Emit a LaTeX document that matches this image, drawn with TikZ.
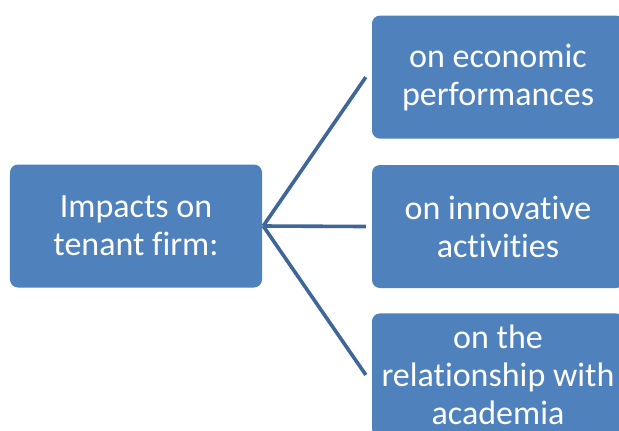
\documentclass[tikz,border=0pt]{standalone}
\usepackage{fontspec}
\setmainfont{Carlito}[Ligatures=NoCommon]
\usepackage{tikz}
\usetikzlibrary{positioning}
\definecolor{boxblue}{HTML}{4F81BD}
\definecolor{linkblue}{HTML}{3F6699}
\tikzset{impactbox/.style={fill=boxblue, rounded corners=8bp, text=white, align=center,
	inner sep=0pt, minimum width=252bp, minimum height=123bp,
	font=\fontsize{34bp}{38bp}\selectfont},
	link/.style={draw=linkblue, line width=3.6bp}}

\begin{document}
\begin{tikzpicture}[x=1bp,y=-1bp]
		  \clip (0,0) rectangle (619,430);
		  \fill[white] (0,0) rectangle (619,430);
	    \node[impactbox] (firm) at (136,226) {Impacts on\\tenant firm:};
	    \node[impactbox] (innov) at (498,226.5) {on innovative\\activities};
	    \node[impactbox, above=26bp of innov] (econ) {on economic\\performances};
	    \node[impactbox, below=25bp of innov] (acad) {on the\\relationship with\\academia};

	    \draw[link] ([xshift=1bp]firm.east) -- ([xshift=-6bp]econ.west);
	    \draw[link] ([xshift=1bp]firm.east) -- ([xshift=-6bp]innov.west);
	    \draw[link] ([xshift=1bp]firm.east) -- ([xshift=-6bp]acad.west);
	    \end{tikzpicture}
\end{document}
